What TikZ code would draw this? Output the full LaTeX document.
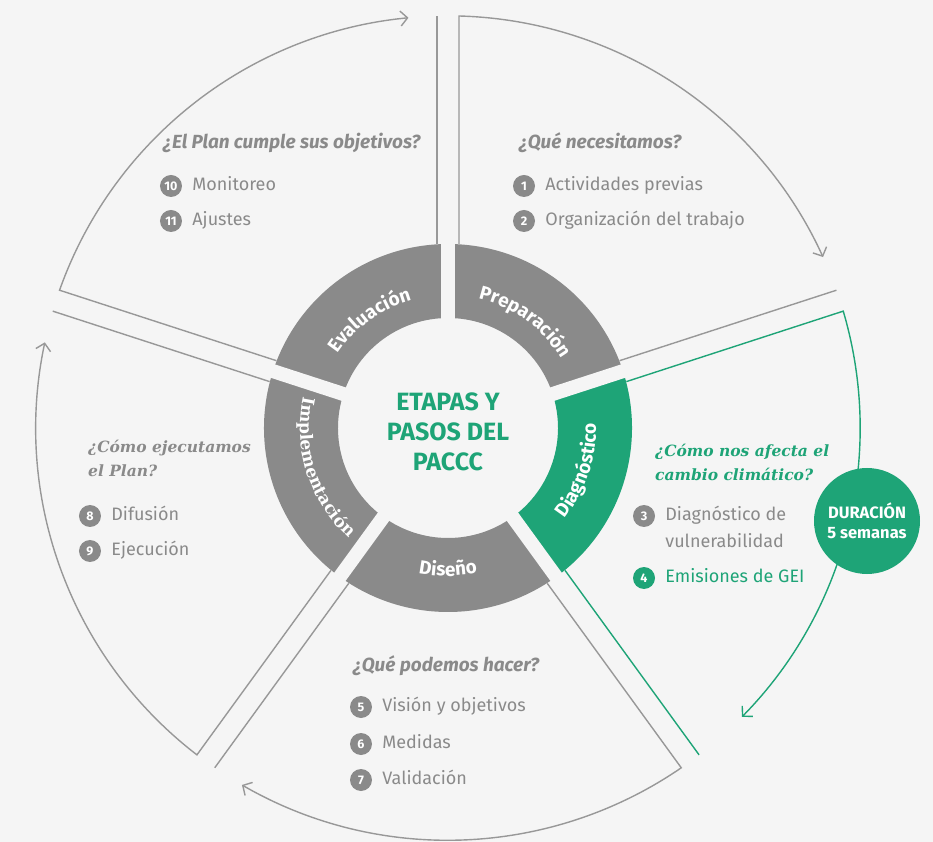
\documentclass[tikz,border=0pt]{standalone}
\usepackage{fontspec}
\setmainfont{Fira Sans}
\setsansfont{Fira Sans}
\newfontfamily\slabfont{DejaVu Serif}
\usetikzlibrary{calc,positioning,arrows.meta,decorations.text}
\definecolor{bgcol}{RGB}{245,245,245}
\definecolor{ringgray}{RGB}{138,138,138}
\definecolor{linegray}{RGB}{152,152,152}
\definecolor{txtgray}{RGB}{138,138,138}
\definecolor{pgreen}{RGB}{30,164,119}
\newcommand\ringfont{\fontsize{19}{22}\selectfont\bfseries\color{white}}
\newcommand\ringslab{\slabfont\fontsize{17}{20}\selectfont\bfseries\color{white}}
\tikzset{
  num/.style={circle, fill=#1, text=white, minimum size=22pt, inner sep=0pt,
    font=\fontsize{12.5}{12.5}\selectfont\bfseries},
  num/.default=ringgray,
  item/.style={anchor=west, inner sep=0pt, text=txtgray, text height=13pt,
    text depth=4pt, font=\fontsize{18}{22}\selectfont},
  quest/.style={anchor=west, inner sep=0pt, text=txtgray, align=left,
    font=\fontsize{19}{24}\selectfont\bfseries\itshape},
  slabquest/.style={quest, font=\slabfont\fontsize{15.5}{24}\selectfont\bfseries\itshape},
  outline/.style={line width=1.4pt, draw=#1},
}
\begin{document}
\begin{tikzpicture}[x=1pt, y=1pt]
    \useasboundingbox (-448,-414) rectangle (485,428);
    \fill[bgcol] (-448,-414) rectangle (485,428);
    %% ring
    \foreach \hi/\col in {90/ringgray, 18/pgreen, 306/ringgray, 234/ringgray, 162/ringgray}
        \fill[\col] (\hi:110) arc[start angle=\hi, end angle=\hi-72, radius=110]
            -- (\hi-72:184) arc[start angle=\hi-72, end angle=\hi, radius=184] -- cycle;
    \foreach \g in {18,90,162,234,306}
        \draw[bgcol, line width=14pt] (\g:100) -- (\g:192);
    %% wedges
    \foreach \hi/\col/\pad in {90/linegray/6.5, 18/pgreen/9.5, 306/linegray/6, 234/linegray/6, 162/linegray/5.5} {
        \draw[outline=\col, -{Straight Barb[length=7pt,width=15pt]}]
            ($(\hi:184)+(\hi-90:11)$) -- ($(\hi:412)+(\hi-90:11)$)
            arc[start angle=\hi-1.53, end angle=\hi-72+\pad, radius=412.15];
        \draw[outline=\col] ($(\hi-72:184)+(\hi+18:11)$) -- ($(\hi-72:412)+(\hi+18:11)$);
    }
    %% ring labels
    \path[decorate, decoration={text along path, text align=center, text={|\ringfont|Preparación}}]
        (94:133) arc[start angle=94, end angle=14, radius=133];
    \path[decorate, decoration={text along path, text align=center, text={|\ringfont|Evaluación}}]
        (166:133) arc[start angle=166, end angle=86, radius=133];
    \path[decorate, decoration={text along path, text align=center, text={|\ringfont|Diagnóstico}}]
        (-58:148) arc[start angle=-58, end angle=22, radius=148];
    \path[decorate, decoration={text along path, text align=center, text={|\ringfont|Diseño}}]
        (230:148) arc[start angle=230, end angle=310, radius=148];
    \path[decorate, decoration={text along path, text align=center, text={|\ringslab|Implementación}}]
        (158:148) arc[start angle=158, end angle=238, radius=148];
    \node[text=pgreen, align=center, font=\fontsize{25}{30}\selectfont\bfseries] (title) at (0,-4)
        {ETAPAS Y\\PASOS DEL\\PACCC};
    %% questions
    \node[quest] (qprep) at (71,285) {¿Qué necesitamos?};
    \node[quest] (qeval) at (-285,285) {¿El Plan cumple sus objetivos?};
    \node[slabquest, text=pgreen] (qdiag) at (207,-34) {¿Cómo nos afecta el\\cambio climático?};
    \node[slabquest] (qimpl) at (-360,-30) {¿Cómo ejecutamos\\el Plan?};
    \node[quest] (qdis) at (-95,-238) {¿Qué podemos hacer?};
    %% steps
    \foreach \n/\x/\y/\txt in {1/76/242/Actividades previas, 2/76/207/Organización del trabajo,
            10/-277/242/Monitoreo, 11/-277/207/Ajustes, 5/-87/-279/Visión y objetivos,
            6/-87/-316/Medidas, 7/-87/-352/Validación, 8/-358/-88/Difusión, 9/-358/-123/Ejecución} {
        \node[num] (n\n) at (\x,\y) {\n};
        \node[item, right=10pt of n\n] (t\n) {\txt};
    }
    \node[num] (n3) at (196,-88) {3};
    \node[item, right=10pt of n3] (t3) {Diagnóstico de};
    \node[item] (t3b) at ([yshift=-27pt]t3.west) {vulnerabilidad};
    \node[num=pgreen] (n4) at (196,-150) {4};
    \node[item, text=pgreen, right=10pt of n4] (t4) {Emisiones de GEI};
    %% duration
    \node[circle, fill=pgreen, minimum size=106pt, inner sep=0pt, text=white, align=center,
        font=\fontsize{16.5}{20}\selectfont\bfseries] (dur) at (419,-93) {DURACIÓN\\5 semanas};
\end{tikzpicture}
\end{document}
